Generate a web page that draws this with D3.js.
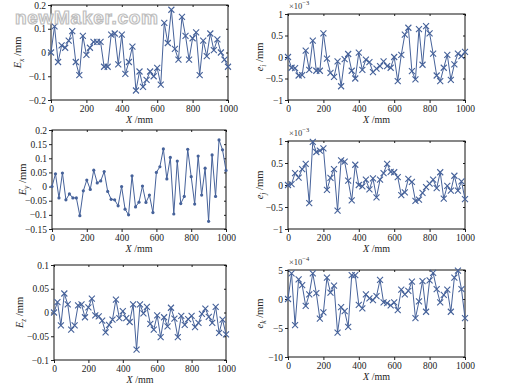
<!DOCTYPE html>
<html><head><meta charset="utf-8">
<script src="https://cdn.jsdelivr.net/npm/d3@7/dist/d3.min.js"></script>
<style>body{margin:0;background:#fff}svg{display:block}</style>
</head><body>
<svg id="c" width="518" height="385"></svg>
<script>
const xs = d3.range(0, 1001, 20);
const xTicks = [0, 200, 400, 600, 800, 1000];

const Ex = [0.0,0.11,-0.04,0.03,0.02,0.05,0.09,-0.04,-0.095,0.07,-0.01,0.02,0.045,0.045,0.045,-0.06,-0.06,0.075,0.08,-0.05,0.075,-0.09,-0.04,0.025,-0.16,-0.08,-0.145,-0.115,-0.08,-0.1,-0.065,-0.135,0.125,0.04,0.18,0.015,-0.03,0.15,0.07,-0.03,0.06,0.085,-0.095,0.05,-0.015,0.08,0.01,0.055,0.0,-0.03,-0.06];
const ei = [0.0,-0.25,-0.26,-0.43,-0.42,0.15,-0.3,0.38,-0.32,-0.32,0.55,-0.04,-0.37,-0.46,-0.1,-0.68,-0.05,0.07,-0.32,-0.5,0.1,-0.3,-0.06,-0.12,-0.35,-0.27,-0.21,-0.1,-0.21,-0.25,0.0,-0.56,0.05,0.52,0.68,-0.33,-0.52,0.65,-0.18,0.72,0.55,0.08,-0.43,-0.56,-0.25,0.05,-0.53,-0.17,0.08,0.02,0.12];
const Ey = [0.0,0.045,-0.04,0.048,-0.047,-0.026,-0.04,-0.04,-0.103,-0.015,0.023,-0.01,0.058,0.013,0.02,0.053,-0.017,-0.045,-0.047,-0.068,0.0,-0.08,-0.1,0.038,-0.072,-0.055,0.002,-0.056,-0.03,-0.092,0.05,0.07,0.133,0.027,0.103,-0.097,0.09,-0.06,-0.035,0.132,0.035,-0.062,0.108,-0.03,0.065,-0.123,0.112,-0.035,0.165,0.13,0.057];
const ej = [0.0,0.02,0.27,0.17,0.36,0.48,-0.41,0.98,0.75,0.78,0.83,-0.11,0.16,0.36,-0.58,0.56,0.53,0.1,-0.35,0.46,0.0,-0.03,0.12,-0.1,0.15,-0.28,0.12,0.27,0.48,0.3,0.29,0.18,-0.23,-0.17,0.14,0.07,-0.36,-0.33,-0.18,-0.05,0.03,0.12,-0.07,0.29,-0.31,-0.02,-0.13,0.21,-0.13,0.08,-0.32];
const Ez = [0.0,0.022,-0.027,0.04,0.017,-0.036,-0.027,0.015,0.017,-0.01,0.011,0.029,-0.006,-0.008,-0.017,-0.042,-0.026,-0.015,0.027,-0.012,0.003,-0.012,-0.02,0.017,-0.078,0.017,-0.002,0.012,-0.024,-0.036,-0.006,-0.052,-0.01,-0.029,0.01,-0.013,-0.052,-0.007,-0.026,-0.014,-0.007,-0.031,-0.022,-0.003,0.008,-0.009,-0.022,0.012,-0.043,-0.015,-0.046];
const ek = [0.0,4.4,-4.5,3.4,2.4,-1.2,0.8,4.4,1.0,-3.4,-2.3,3.7,1.1,2.3,-5.8,-1.4,-2.1,-4.8,4.1,4.1,-1.0,-1.6,0.8,0.1,-0.2,0.5,3.3,-0.6,-0.7,-1.1,-0.6,-1.9,1.6,0.8,1.4,3.0,-3.3,-0.4,3.1,-2.2,3.2,4.5,1.7,-0.6,0.7,1.6,-2.2,3.7,4.9,1.7,-3.3];

const ticksExEy = [-0.2,-0.1,0,0.1,0.2];
const ticksEy = [-0.15,-0.1,-0.05,0,0.05,0.1,0.15,0.2];
const ticksEz = [-0.1,-0.05,0,0.05,0.1];
const ticksE3 = [-1,-0.5,0,0.5,1];
const ticksE4 = [-10,-5,0,5];

const panels = [
  {vals: Ex, dom:[-0.2,0.2], ticks: ticksExEy, box:[51,228,5,100], sym:"E", sub:"x", mark:"x", ylx:21, exp:null},
  {vals: ei, dom:[-1,1], ticks: ticksE3, box:[288,465,14,100], sym:"e", sub:"i", mark:"x", ylx:263, exp:"−3"},
  {vals: Ey, dom:[-0.15,0.2], ticks: ticksEy, box:[52,226,130,229], sym:"E", sub:"y", mark:"dot", ylx:26, exp:null},
  {vals: ej, dom:[-1,1], ticks: ticksE3, box:[288,465,141,229], sym:"e", sub:"j", mark:"x", ylx:263, exp:"−3"},
  {vals: Ez, dom:[-0.1,0.1], ticks: ticksEz, box:[54,226,265,360], sym:"E", sub:"z", mark:"x", ylx:23, exp:null},
  {vals: ek, dom:[-10,5], ticks: ticksE4, box:[288,465,270,357], sym:"e", sub:"k", mark:"x", ylx:263, exp:"−4"}
];

const svg = d3.select("#c");
const font = "'Liberation Serif','Times New Roman',serif";
const col = "#46629a";
const fmt = v => String(+v.toFixed(3)).replace("-", "−");

panels.forEach(p => {
  const [l, r, t, b] = p.box;
  const x = d3.scaleLinear().domain([0, 1000]).range([l, r]);
  const y = d3.scaleLinear().domain(p.dom).range([b, t]);
  const g = svg.append("g");

  const xa = g.append("g").attr("transform", `translate(0,${b})`)
    .call(d3.axisBottom(x).tickValues(xTicks).tickSize(3).tickPadding(2.5).tickFormat(d3.format("d")));
  const ya = g.append("g").attr("transform", `translate(${l},0)`)
    .call(d3.axisLeft(y).tickValues(p.ticks).tickSize(3).tickPadding(2).tickFormat(fmt));
  [xa, ya].forEach(a => {
    a.select(".domain").remove();
    a.selectAll("text").attr("font-family", font).attr("font-size", 9.5).attr("fill", "#222");
    a.selectAll("line").attr("stroke", "#222");
  });
  g.append("g").attr("transform", `translate(0,${t})`)
    .call(d3.axisTop(x).tickValues(xTicks).tickSize(-2).tickFormat(""))
    .call(a => { a.select(".domain").remove(); a.selectAll("line").attr("stroke", "#222"); });
  g.append("g").attr("transform", `translate(${r},0)`)
    .call(d3.axisRight(y).tickValues(p.ticks).tickSize(-2).tickFormat(""))
    .call(a => { a.select(".domain").remove(); a.selectAll("line").attr("stroke", "#222"); });

  g.append("rect").attr("x", l).attr("y", t).attr("width", r - l).attr("height", b - t)
    .attr("fill", "none").attr("stroke", "#111").attr("stroke-width", 1);

  const pts = xs.map((xv, i) => [xv, p.vals[i]]);
  g.append("path").datum(pts)
    .attr("d", d3.line().x(d => x(d[0])).y(d => y(d[1])))
    .attr("fill", "none").attr("stroke", col).attr("stroke-width", 1);

  if (p.mark === "x") {
    const s = 3;
    g.append("g").selectAll("path").data(pts).join("path")
      .attr("d", d => { const cx = x(d[0]), cy = y(d[1]);
        return `M${cx-s},${cy-s}L${cx+s},${cy+s}M${cx-s},${cy+s}L${cx+s},${cy-s}`; })
      .attr("stroke", col).attr("stroke-width", 1.1).attr("fill", "none");
  } else {
    g.append("g").selectAll("circle").data(pts).join("circle")
      .attr("cx", d => x(d[0])).attr("cy", d => y(d[1])).attr("r", 1.6).attr("fill", col);
  }

  const xt = g.append("text").attr("x", (l + r) / 2).attr("y", b + 22.5)
    .attr("text-anchor", "middle").attr("font-family", font).attr("font-size", 10).attr("fill", "#222");
  xt.append("tspan").attr("font-style", "italic").text("X");
  xt.append("tspan").text(" /mm");

  const yt = g.append("text").attr("transform", `translate(${p.ylx},${(t + b) / 2}) rotate(-90)`)
    .attr("text-anchor", "middle").attr("font-family", font).attr("font-size", 10.5).attr("fill", "#222");
  yt.append("tspan").attr("font-style", "italic").text(p.sym);
  yt.append("tspan").attr("font-style", "italic").attr("font-size", 7.5).attr("dy", 2.5).text(p.sub);
  yt.append("tspan").attr("dy", -2.5).text(" /mm");

  if (p.exp) {
    const et = g.append("text").attr("x", l + 1).attr("y", t - 5)
      .attr("font-family", font).attr("font-size", 8.5).attr("fill", "#333");
    et.append("tspan").text("×10");
    et.append("tspan").attr("font-size", 6.5).attr("dy", -4).text(p.exp);
  }
});

svg.append("text").attr("x", 15).attr("y", 24).attr("textLength", 143)
  .attr("font-family", "'Liberation Sans',Arial,sans-serif").attr("font-weight", "bold").attr("font-size", 19)
  .attr("fill", "#ffffff").attr("stroke", "#b8b8b8").attr("stroke-width", 1.2).attr("opacity", 0.9)
  .text("newMaker.com");
</script>
</body></html>
